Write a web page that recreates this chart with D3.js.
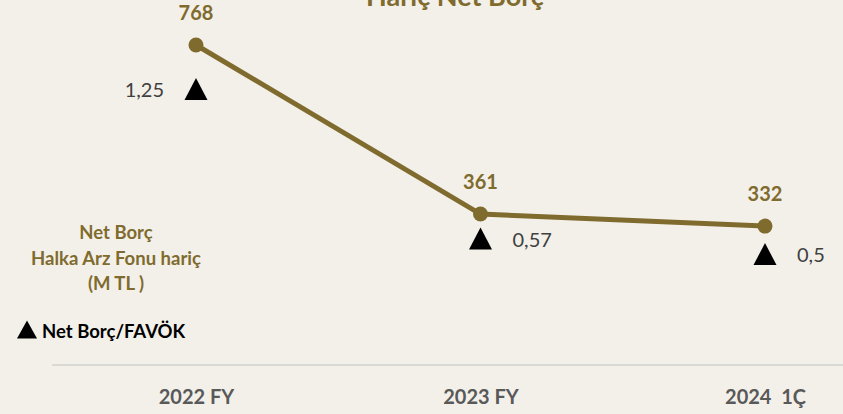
<!DOCTYPE html>
<html>
<head>
<meta charset="utf-8">
<script src="https://cdn.jsdelivr.net/npm/d3@7"></script>
<style>
  html, body { margin: 0; padding: 0; background: #f3f0ea; }
  svg { display: block; font-family: Lato, "Open Sans", sans-serif; }
</style>
</head>
<body>
<div id="chart"></div>
<script>
// --------------------------------------
//  Data
// --------------------------------------

const categories = ["2022 FY", "2023 FY", "2024  1Ç"];
const netDebt = [768, 361, 332];
const ratio = [1.25, 0.57, 0.5];
const ratioLabels = ["1,25", "0,57", "0,5"];

const width = 843;
const height = 414;
const olive = "#806b2e";

// --------------------------------------
//  Canvas
// --------------------------------------

const svg = d3.select("#chart")
  .append("svg")
    .attr("width", width)
    .attr("height", height)
    .attr("viewBox", [0, 0, width, height]);

svg.append("rect")
    .attr("width", width)
    .attr("height", height)
    .attr("fill", "#f3f0ea");

// --------------------------------------
// Scales
// --------------------------------------

const x = d3.scalePoint()
    .domain(categories)
    .range([196, 765]);

const y = d3.scaleLinear()
    .domain([0, 768])
    .range([364, 45]);

const y2 = d3.scaleLinear()
    .domain([0, 1.45])
    .range([364, 45]);

// --------------------------------------
// Title (cut off at the top, as in the source)
// --------------------------------------

svg.append("text")
    .attr("x", 455)
    .attr("y", 6)
    .attr("text-anchor", "middle")
    .attr("font-size", 27)
    .attr("font-weight", 700)
    .attr("fill", olive)
    .text("Hariç Net Borç");

// --------------------------------------
// Axis
// --------------------------------------

const xAxis = svg.append("g")
    .attr("transform", `translate(0, 365)`)
    .call(d3.axisBottom(x).tickSize(0).tickPadding(25));

xAxis.select(".domain")
    .attr("d", "M52,0H843")
    .attr("stroke", "#d9d9d6")
    .attr("stroke-width", 2);

xAxis.selectAll("text")
    .attr("font-family", "Lato, sans-serif")
    .attr("font-size", 20)
    .attr("font-weight", 700)
    .attr("fill", "#595959")
    .style("white-space", "pre");

// --------------------------------------
// Line and points
// --------------------------------------

const data = categories.map((c, i) => ({ cat: c, v: netDebt[i], r: ratio[i], rl: ratioLabels[i] }));

const line = d3.line()
    .x(d => x(d.cat))
    .y(d => y(d.v));

svg.append("path")
    .datum(data)
    .attr("d", line)
    .attr("fill", "none")
    .attr("stroke", olive)
    .attr("stroke-width", 5);

svg.selectAll(".pt")
  .data(data)
  .join("circle")
    .attr("class", "pt")
    .attr("cx", d => x(d.cat))
    .attr("cy", d => y(d.v))
    .attr("r", 7.5)
    .attr("fill", olive);

svg.selectAll(".val")
  .data(data)
  .join("text")
    .attr("class", "val")
    .attr("x", d => x(d.cat))
    .attr("y", d => y(d.v) - 25)
    .attr("text-anchor", "middle")
    .attr("font-size", 20)
    .attr("font-weight", 700)
    .attr("fill", olive)
    .text(d => d.v);

// --------------------------------------
// Ratio triangles
// --------------------------------------

const tri = (cx, cy, w, h) =>
  `M${cx},${cy - h / 2}L${cx + w / 2},${cy + h / 2}L${cx - w / 2},${cy + h / 2}Z`;

svg.selectAll(".tri")
  .data(data)
  .join("path")
    .attr("class", "tri")
    .attr("d", d => tri(x(d.cat), y2(d.r), 23, 22))
    .attr("fill", "#000");

svg.selectAll(".rl")
  .data(data)
  .join("text")
    .attr("class", "rl")
    .attr("x", (d, i) => i === 0 ? x(d.cat) - 32 : x(d.cat) + 32)
    .attr("y", d => y2(d.r) + 8)
    .attr("text-anchor", (d, i) => i === 0 ? "end" : "start")
    .attr("font-size", 20)
    .attr("fill", "#404040")
    .text(d => d.rl);

// --------------------------------------
// Side notes
// --------------------------------------

const noteLines = ["Net Borç", "Halka Arz Fonu hariç", "(M TL )"];

svg.selectAll(".note")
  .data(noteLines)
  .join("text")
    .attr("class", "note")
    .attr("x", 116)
    .attr("y", (d, i) => 239 + i * 25.5)
    .attr("text-anchor", "middle")
    .attr("font-size", 18.5)
    .attr("font-weight", 700)
    .attr("fill", olive)
    .style("white-space", "pre")
    .text(d => d);

svg.append("path")
    .attr("d", tri(27, 329.5, 20, 18))
    .attr("fill", "#000");

svg.append("text")
    .attr("x", 42)
    .attr("y", 338)
    .attr("font-size", 18.5)
    .attr("font-weight", 700)
    .attr("fill", "#000")
    .text("Net Borç/FAVÖK");
</script>
</body>
</html>
